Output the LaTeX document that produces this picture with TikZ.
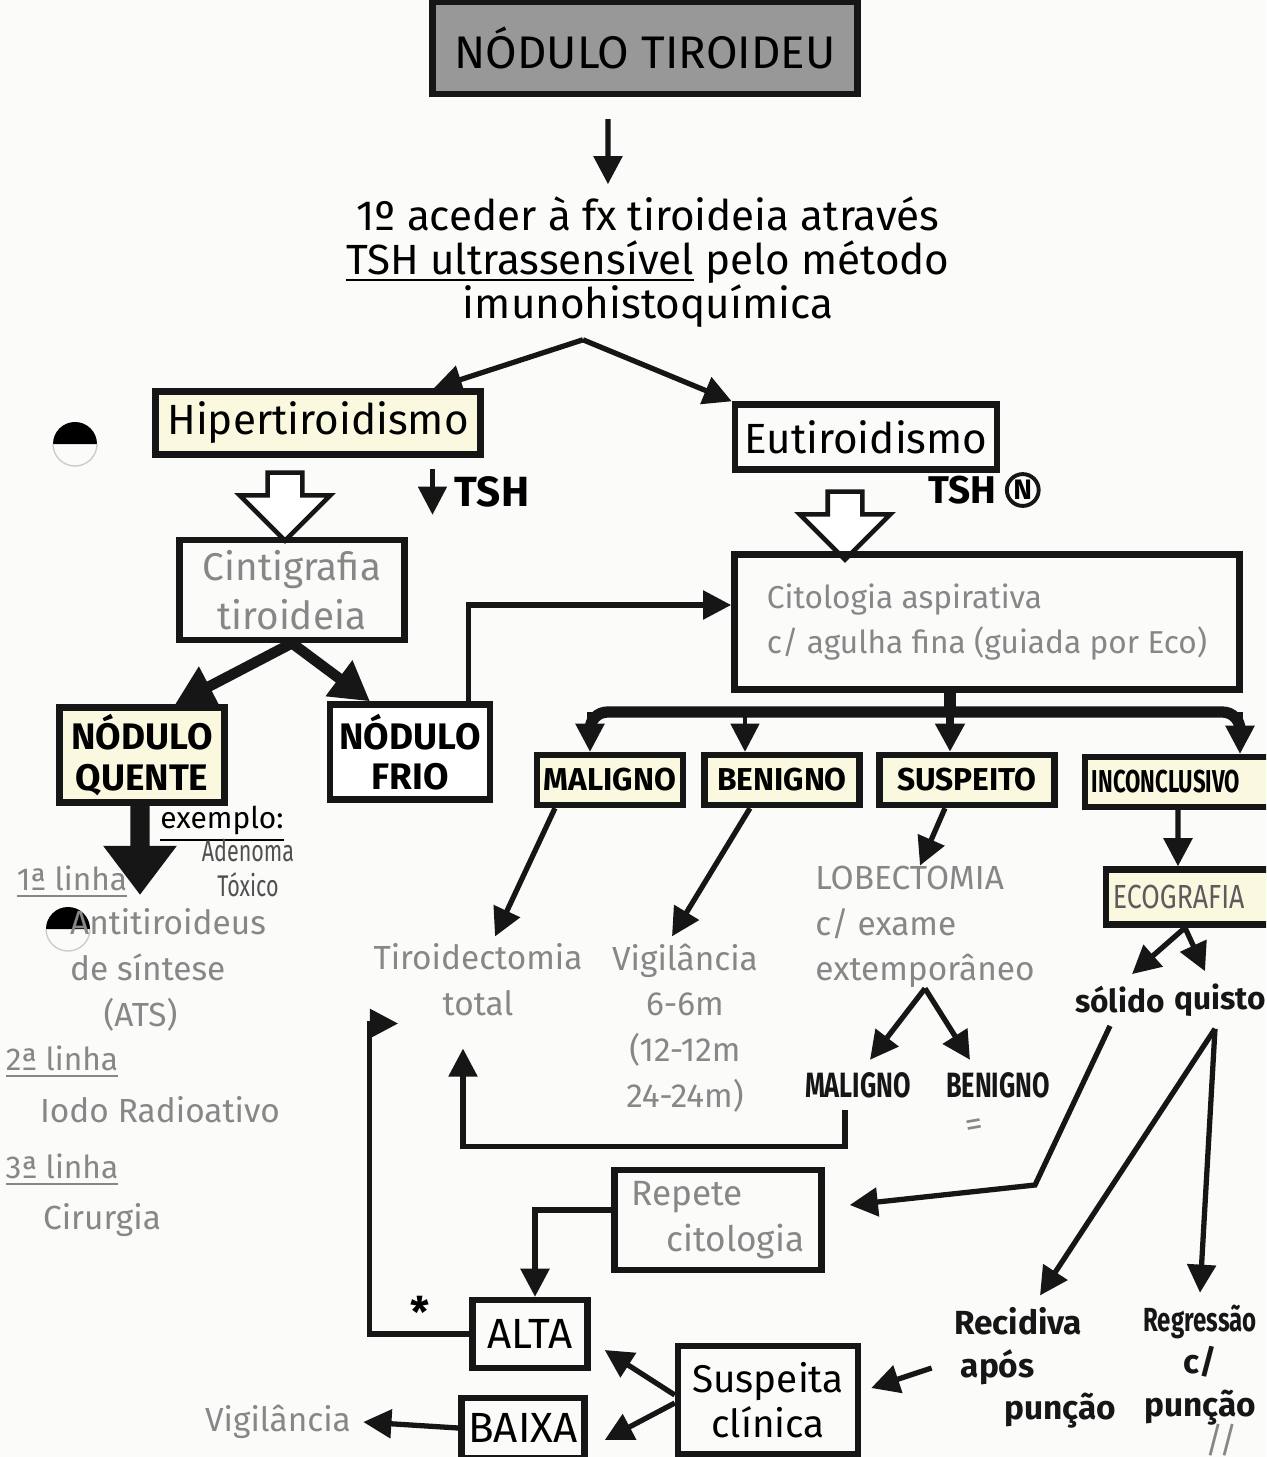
\documentclass[tikz,border=0pt]{standalone}
\usepackage{fontspec}
\setmainfont{Fira Sans}
\definecolor{InkColor}{RGB}{22,22,22}
\definecolor{PencilColor}{RGB}{135,135,135}
\definecolor{HiliteColor}{RGB}{250,249,224}
\definecolor{TitleFill}{RGB}{152,152,152}
\definecolor{PaperColor}{RGB}{251,251,250}
\usetikzlibrary{positioning, arrows.meta, shapes.arrows, calc}
\newcommand{\squeeze}[2][0.72]{\scalebox{#1}[1]{#2}}
\tikzstyle{arrow} = [line width=1.5pt, InkColor, -{Triangle[length=8pt,width=8pt]}]
\tikzstyle{fat arrow} = [line width=3pt, InkColor, -{Triangle[length=11pt,width=12pt]}]
\tikzstyle{heavy arrow} = [line width=5.5pt, InkColor, -{Triangle[length=14pt,width=20pt]}]
\tikzset{
  box/.style={draw=InkColor, line width=1.8pt, rectangle, align=center, inner sep=2pt, font=\fontsize{12}{14}\selectfont},
  hbox/.style={box, fill=HiliteColor},
  capsbox/.style={box, fill=HiliteColor, font=\bfseries\fontsize{9}{11}\selectfont},
  ink/.style={text=InkColor, align=center, font=\bfseries\fontsize{10}{12}\selectfont},
  note/.style={text=PencilColor, align=center, font=\fontsize{9.5}{13}\selectfont},
  hollow arrow/.style={single arrow, draw=InkColor, fill=white, line width=1.3pt, shape border rotate=270,
    minimum height=0.68cm, inner sep=0.15cm, single arrow head extend=0.28cm}
}

\begin{document}
\begin{tikzpicture}[x=0.01cm, y=-0.01cm]
  \useasboundingbox (0,0) rectangle (1266,1457);
  \fill[PaperColor] (0,0) rectangle (1266,1457);
  \clip (0,0) rectangle (1266,1457);

  % Punch holes
  \fill[black] (53,444) arc[start angle=180, end angle=0, radius=0.22cm] -- cycle;
  \draw[gray!40] (53,444) arc[start angle=180, end angle=360, radius=0.22cm];
  \fill[black] (46,929) arc[start angle=180, end angle=0, radius=0.22cm] -- cycle;
  \draw[gray!40] (46,929) arc[start angle=180, end angle=360, radius=0.22cm];

  % Title
  \node[box, fill=TitleFill, minimum width=4.25cm, minimum height=0.92cm, font=\fontsize{13}{15}\selectfont] (title) at (645,48) {NÓDULO TIROIDEU};
  \node[align=center, font=\fontsize{12}{12.5}\selectfont] (intro) at (648,262)
    {1º aceder à fx tiroideia através\\\underline{TSH ultrassensível} pelo método\\imunohistoquímica};
  \draw[arrow] ([xshift=-0.37cm, yshift=-0.22cm]title.south) -- ([xshift=-0.4cm]intro.north);

  % First split
  \coordinate (split) at ([xshift=-0.65cm]intro.south);
  \node[hbox, minimum width=3.25cm, minimum height=0.63cm] (hiper) at (318,423) {Hipertiroidismo};
  \node[box, minimum width=2.62cm, minimum height=0.65cm] (eutir) at (866,437) {Eutiroidismo};
  \draw[arrow] (split) -- ([xshift=-0.5cm]hiper.north east);
  \draw[arrow] (split) -- (eutir.north west);

  % TSH marks
  \node[font=\bfseries\fontsize{12}{14}\selectfont] (tshlow) at (492,492) {TSH};
  \draw[arrow, line width=1.3pt] ([xshift=-0.1cm, yshift=-0.05cm]tshlow.north west) -- ([xshift=-0.1cm, yshift=0.05cm]tshlow.south west);
  \node[font=\bfseries\fontsize{11}{13}\selectfont] (tshn) at (962,490) {TSH};
  \node[circle, draw=InkColor, line width=1.1pt, inner sep=0.5pt, font=\bfseries\fontsize{8}{9}\selectfont, right=-1pt of tshn] (tshcirc) {N};

  % Hollow arrows
  \node[hollow arrow] (hol1) at (285,498) {};
  \node[hollow arrow] (hol2) at (845,517) {};

  % Cintigrafia branch
  \node[box, minimum width=2.25cm, minimum height=1.0cm, text=PencilColor, font=\fontsize{11}{14}\selectfont] (cint) at (292,590) {Cintigrafia\\tiroideia};
  \node[capsbox, minimum width=1.65cm, minimum height=0.9cm, font=\bfseries\fontsize{10.5}{11.5}\selectfont] (quente) at (142,755) {NÓDULO\\QUENTE};
  \node[box, fill=white, minimum width=1.6cm, minimum height=0.95cm, font=\bfseries\fontsize{10.5}{11.5}\selectfont] (frio) at (410,752) {NÓDULO\\FRIO};
  \draw[fat arrow] (cint.south) -- ([xshift=0.33cm]quente.north);
  \draw[fat arrow] (cint.south) -- ([xshift=-0.4cm]frio.north);

  % Nodulo quente treatment
  \coordinate (quenteEnd) at (140,895);
  \draw[heavy arrow] ([xshift=-0.02cm]quente.south) -- (quenteEnd);
  \node[font=\fontsize{8.5}{10}\selectfont] (exemplo) at (222,824) {\underline{exemplo:}};
  \node[text=InkColor!75, align=center, font=\fontsize{8.5}{10}\selectfont] (adenoma) at (248,868) {\squeeze{Adenoma}\\\squeeze{Tóxico}};
  \node[note, font=\fontsize{9}{11}\selectfont] (linha1) at (72,882) {\underline{1ª linha}};
  \node[note, align=left] (ats) at (168,970) {Antitiroideus\\de síntese\\\quad(ATS)};
  \node[note, font=\fontsize{9}{11}\selectfont] (linha2) at (62,1062) {\underline{2ª linha}};
  \node[note] (iodo) at (160,1110) {Iodo Radioativo};
  \node[note, font=\fontsize{9}{11}\selectfont] (linha3) at (62,1170) {\underline{3ª linha}};
  \node[note] (cirurgia) at (102,1220) {Cirurgia};

  % Citologia
  \node[box, minimum width=5.05cm, minimum height=1.35cm, text=PencilColor, align=left, font=\fontsize{9}{13}\selectfont] (citol) at (987,622)
    {Citologia aspirativa\\c/ agulha fina (guiada por Eco)};
  \draw[arrow] ([xshift=-0.25cm]frio.north east) |- ([yshift=0.17cm]citol.west);

  % Results bar
  \coordinate (barL) at (590,712);
  \coordinate (barB) at (745,712);
  \coordinate (barM) at (950,712);
  \coordinate (barR) at (1240,712);
  \draw[line width=3.2pt, InkColor] (citol.south -| barM) -- (barM);
  \draw[line width=3.2pt, InkColor, rounded corners=5pt] ([yshift=-0.15cm]barL) -- (barL) -- (barR) -- ([yshift=-0.15cm]barR);
  \node[capsbox, minimum width=1.4cm, minimum height=0.5cm] (malig) at (610,780) {MALIGNO};
  \node[capsbox, minimum width=1.55cm, minimum height=0.5cm] (benig) at (782,780) {BENIGNO};
  \node[capsbox, minimum width=1.75cm, minimum height=0.5cm] (susp) at (967,780) {SUSPEITO};
  \node[capsbox, minimum height=0.5cm, text width=2.1cm, align=left] (incon) at (1197,782) {\squeeze[0.7]{INCONCLUSIVO}};
  \draw[arrow] (barL) -- (barL |- malig.north);
  \draw[arrow, line width=1.2pt] (barB) -- (barB |- benig.north);
  \draw[arrow, line width=2.4pt] (barM) -- (barM |- susp.north);
  \draw[arrow] (barR) -- (barR |- incon.north);

  % Maligno / Benigno
  \node[note] (tiroid) at (478,980) {Tiroidectomia\\total};
  \node[note] (vigil) at (685,1028) {Vigilância\\6-6m\\(12-12m\\24-24m)};
  \draw[arrow] ([xshift=-0.55cm]malig.south) -- ([xshift=0.17cm, yshift=-0.05cm]tiroid.north);
  \draw[arrow] ([xshift=-0.32cm]benig.south) -- ([xshift=-0.13cm, yshift=-0.05cm]vigil.north);

  % Suspeito
  \node[note, align=left] (lobect) at (925,927) {LOBECTOMIA\\c/ exame\\extemporâneo};
  \draw[arrow] ([xshift=-0.22cm]susp.south) -- ([xshift=-0.05cm, yshift=-0.12cm]lobect.north);
  \node[ink] (malig2) at (858,1085) {\squeeze{MALIGNO}};
  \node[ink] (benig2) at (998,1085) {\squeeze{BENIGNO}};
  \node[text=PencilColor, rotate=10] (eqmark) at (975,1128) {=};
  \draw[arrow] ([yshift=0.12cm]lobect.south) -- ([xshift=0.12cm]malig2.north);
  \draw[arrow] ([yshift=0.12cm]lobect.south) -- ([xshift=-0.28cm]benig2.north);
  \draw[arrow] ([xshift=-0.13cm]malig2.south) -- ++(0,36) -| ([xshift=-0.15cm, yshift=-0.2cm]tiroid.south);

  % Inconclusivo
  \node[capsbox, minimum height=0.55cm, text width=1.9cm, align=left, font=\fontsize{9.5}{12}\selectfont, text=InkColor!70] (ecog) at (1208,897) {\squeeze[0.8]{ECOGRAFIA}};
  \draw[arrow] ([xshift=-0.19cm]incon.south) -- ([xshift=-0.3cm]ecog.north);
  \node[ink, font=\bfseries\fontsize{9}{11}\selectfont] (solido) at (1120,1000) {sólido};
  \node[ink, font=\bfseries\fontsize{9}{11}\selectfont] (quisto) at (1220,1000) {quisto};
  \draw[arrow] ([xshift=-0.23cm]ecog.south) -- ([xshift=0.12cm]solido.north);
  \draw[arrow] ([xshift=-0.23cm]ecog.south) -- ([xshift=-0.15cm]quisto.north);

  % Repete citologia
  \node[box, minimum width=2.07cm, minimum height=1.0cm, text=PencilColor, align=left, font=\fontsize{10}{13}\selectfont] (repete) at (718,1220) {Repete\\\quad citologia};
  \coordinate (solBend) at (1035,1185);
  \draw[arrow] ([xshift=-0.1cm]solido.south) -- (solBend) -- ([xshift=0.25cm, yshift=0.15cm]repete.east);

  % Quisto outcomes
  \node[ink, align=left, font=\bfseries\fontsize{9.5}{12}\selectfont] (recid) at (1035,1368) {Recidiva\\\hspace{0.2em}após\\\hspace{1.5em}punção};
  \node[ink, font=\bfseries\fontsize{9.5}{12}\selectfont] (regr) at (1200,1365) {\squeeze{Regressão}\\c/\\punção};
  \node[text=PencilColor, font=\fontsize{10}{12}\selectfont] (slashes) at (1222,1440) {//};
  \draw[arrow] ([xshift=-0.05cm]quisto.south) -- ([xshift=0.05cm]recid.north);
  \draw[arrow] ([xshift=-0.05cm]quisto.south) -- (regr.north);

  % Suspeita clinica
  \node[box, minimum width=1.15cm, minimum height=0.68cm] (alta) at (530,1334) {ALTA};
  \node[box, minimum width=1.13cm, minimum height=0.6cm] (baixa) at (523,1428) {BAIXA};
  \node[box, minimum width=1.8cm, minimum height=1.08cm, font=\fontsize{11}{13}\selectfont] (suspcl) at (768,1400) {Suspeita\\clínica};
  \draw[arrow] ([yshift=0.1cm]repete.west) -| ([xshift=0.05cm]alta.north);
  \draw[arrow] ([xshift=-0.1cm]recid.west) -- ([xshift=0.1cm, yshift=0.12cm]suspcl.east);
  \draw[arrow] ([yshift=0.05cm]suspcl.west) -- ([xshift=0.14cm, yshift=-0.16cm]alta.east);
  \draw[arrow] ([yshift=-0.03cm]suspcl.west) -- ([xshift=0.17cm, yshift=-0.12cm]baixa.east);

  % Back to tiroidectomia
  \node[font=\bfseries\fontsize{12}{14}\selectfont] (star) at (420,1312) {*};
  \draw[arrow] (alta.west) -- ++(-100,0) |- ([xshift=0.37cm, yshift=0.05cm]tiroid.south west);
  \node[note] (vigil2) at (278,1422) {Vigilância};
  \draw[arrow] (baixa.west) -- (vigil2.east);
\end{tikzpicture}
\end{document}
